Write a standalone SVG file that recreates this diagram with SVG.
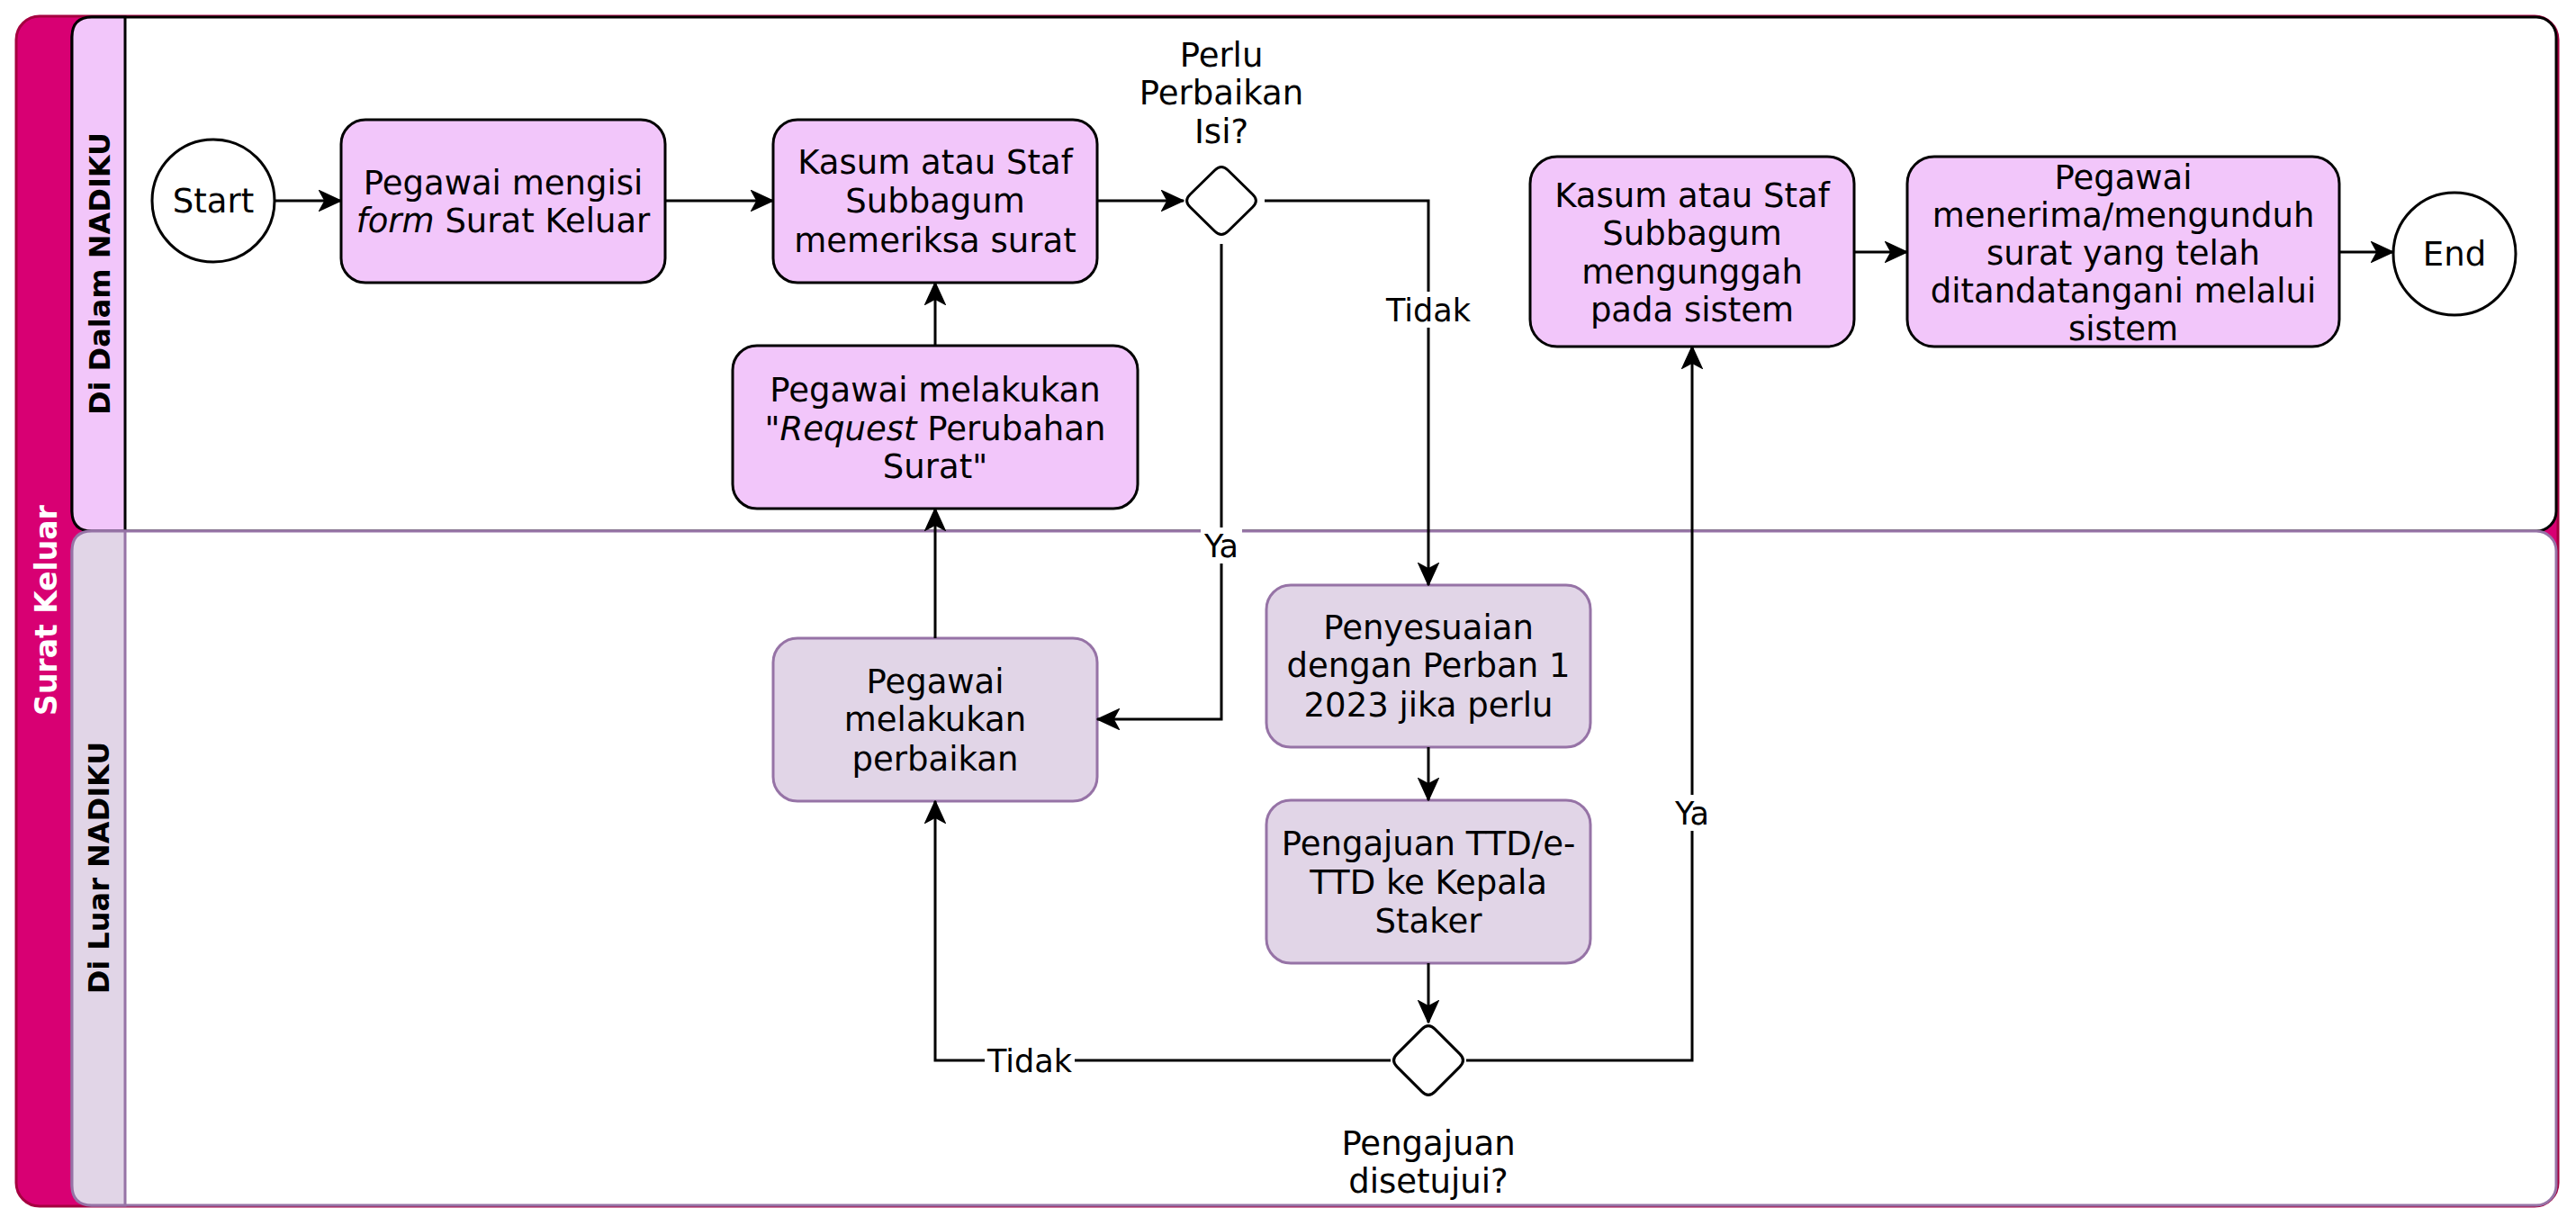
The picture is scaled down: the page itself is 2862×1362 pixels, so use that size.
<svg xmlns="http://www.w3.org/2000/svg" width="2862" height="1362" viewBox="0 0 2862 1362">
<defs>
<marker id="arr" markerUnits="userSpaceOnUse" markerWidth="26" markerHeight="24" viewBox="0 0 26 24" refX="25" refY="12" orient="auto">
<path d="M1,1 L25,12 L1,23 L7,12 Z" fill="#000" stroke="#000" stroke-width="1.5"/>
</marker>
<style>
.t{font-family:"DejaVu Sans","Liberation Sans",sans-serif;font-size:37px;fill:#000;text-anchor:middle}
.e{font-family:"DejaVu Sans","Liberation Sans",sans-serif;font-size:35px;fill:#000;text-anchor:middle}
.ll{font-family:"DejaVu Sans","Liberation Sans",sans-serif;font-weight:bold;font-size:32px;fill:#000;text-anchor:middle}
.n1{fill:#F2C6FA;stroke:#000;stroke-width:3}
.n2{fill:#E1D5E7;stroke:#9673A6;stroke-width:3}
.ev{fill:#fff;stroke:#000;stroke-width:3}
.c{fill:none;stroke:#000;stroke-width:3;marker-end:url(#arr)}
.lb{fill:#fff}
.i{font-style:italic}
</style>
</defs>
<rect x="0" y="0" width="2862" height="1362" fill="#fff"/>

<g id="pool">
<rect x="18" y="18" width="2824" height="1322" rx="26" fill="#D80073" stroke="#A50040" stroke-width="3"/>
<text class="ll" style="fill:#fff;font-size:33px" transform="translate(63,678) rotate(-90)">Surat Keluar</text>
</g>

<g id="lane-dalam">
<rect x="80" y="19" width="2760" height="571" rx="22" fill="#fff" stroke="#000" stroke-width="3"/>
<path d="M139,19 L102,19 Q80,19 80,41 L80,568 Q80,590 102,590 L139,590 Z" fill="#F2C6FA" stroke="#000" stroke-width="3"/>
<text class="ll" transform="translate(122,304) rotate(-90)">Di Dalam NADIKU</text>
</g>

<g id="lane-luar">
<rect x="80" y="590" width="2760" height="749" rx="22" fill="#fff" stroke="#9673A6" stroke-width="3"/>
<path d="M139,590 L102,590 Q80,590 80,612 L80,1317 Q80,1339 102,1339 L139,1339 Z" fill="#E1D5E7" stroke="#9673A6" stroke-width="3"/>
<text class="ll" transform="translate(121,964) rotate(-90)">Di Luar NADIKU</text>
</g>

<g id="start">
<circle cx="237" cy="223" r="68" class="ev"/>
<text class="t" x="237" y="236">Start</text>
</g>

<g id="isi-form">
<rect x="379" y="133" width="360" height="181" rx="27" class="n1"/>
<text class="t" x="559" y="216">Pegawai mengisi</text>
<text class="t" x="559" y="258"><tspan class="i">form</tspan> Surat Keluar</text>
</g>

<g id="periksa">
<rect x="859" y="133" width="360" height="181" rx="27" class="n1"/>
<text class="t" x="1039" y="193">Kasum atau Staf</text>
<text class="t" x="1039" y="236">Subbagum</text>
<text class="t" x="1039" y="280">memeriksa surat</text>
</g>

<g id="dec-perbaikan">
<path d="M1364.2,189 L1391.8,216 Q1399,223 1391.8,230 L1364.2,257 Q1357,264 1349.8,257 L1322.2,230 Q1315,223 1322.2,216 L1349.8,189 Q1357,182 1364.2,189 Z" class="ev"/>
<text class="t" x="1357" y="74">Perlu</text>
<text class="t" x="1357" y="116">Perbaikan</text>
<text class="t" x="1357" y="159">Isi?</text>
</g>

<g id="request">
<rect x="814" y="384" width="450" height="181" rx="27" class="n1"/>
<text class="t" x="1039" y="446">Pegawai melakukan</text>
<text class="t" x="1039" y="489">"<tspan class="i">Request</tspan> Perubahan</text>
<text class="t" x="1039" y="531">Surat"</text>
</g>

<g id="unggah">
<rect x="1700" y="174" width="360" height="211" rx="30" class="n1"/>
<text class="t" x="1880" y="230">Kasum atau Staf</text>
<text class="t" x="1880" y="272">Subbagum</text>
<text class="t" x="1880" y="315">mengunggah</text>
<text class="t" x="1880" y="357">pada sistem</text>
</g>

<g id="terima">
<rect x="2119" y="174" width="480" height="211" rx="30" class="n1"/>
<text class="t" x="2359" y="210">Pegawai</text>
<text class="t" x="2359" y="252">menerima/mengunduh</text>
<text class="t" x="2359" y="294">surat yang telah</text>
<text class="t" x="2359" y="336">ditandatangani melalui</text>
<text class="t" x="2359" y="378">sistem</text>
</g>

<g id="end">
<circle cx="2727" cy="282" r="68" class="ev"/>
<text class="t" x="2727" y="295">End</text>
</g>

<g id="perbaikan">
<rect x="859" y="709" width="360" height="181" rx="27" class="n2"/>
<text class="t" x="1039" y="770">Pegawai</text>
<text class="t" x="1039" y="812">melakukan</text>
<text class="t" x="1039" y="856">perbaikan</text>
</g>

<g id="penyesuaian">
<rect x="1407" y="650" width="360" height="180" rx="27" class="n2"/>
<text class="t" x="1587" y="710">Penyesuaian</text>
<text class="t" x="1587" y="752">dengan Perban 1</text>
<text class="t" x="1587" y="796">2023 jika perlu</text>
</g>

<g id="pengajuan">
<rect x="1407" y="889" width="360" height="181" rx="27" class="n2"/>
<text class="t" x="1587" y="950">Pengajuan TTD/e-</text>
<text class="t" x="1587" y="993">TTD ke Kepala</text>
<text class="t" x="1587" y="1036">Staker</text>
</g>

<g id="dec-disetujui">
<path d="M1594.1,1143.1 L1621.9,1170.9 Q1629,1178 1621.9,1185.1 L1594.1,1212.9 Q1587,1220 1579.9,1212.9 L1552.1,1185.1 Q1545,1178 1552.1,1170.9 L1579.9,1143.1 Q1587,1136 1594.1,1143.1 Z" class="ev"/>
<text class="t" x="1587" y="1283">Pengajuan</text>
<text class="t" x="1587" y="1325">disetujui?</text>
</g>

<g id="connectors">
<path class="c" d="M305,223 L379,223"/>
<path class="c" d="M739,223 L859,223"/>
<path class="c" d="M1219,223 L1315,223"/>
<path class="c" d="M1405,223 L1587,223 L1587,650"/>
<path class="c" d="M1357,271 L1357,799 L1219,799"/>
<path class="c" d="M1039,709 L1039,565"/>
<path class="c" d="M1039,384 L1039,314"/>
<path class="c" d="M1587,830 L1587,889"/>
<path class="c" d="M1587,1070 L1587,1136"/>
<path class="c" d="M1545,1178 L1039,1178 L1039,890"/>
<path class="c" d="M1629,1178 L1880,1178 L1880,385"/>
<path class="c" d="M2060,280 L2119,280"/>
<path class="c" d="M2599,280 L2659,280"/>
<rect class="lb" x="1537" y="324" width="100" height="40"/>
<text class="e" x="1587" y="357">Tidak</text>
<rect class="lb" x="1334" y="586" width="46" height="40"/>
<text class="e" x="1357" y="619">Ya</text>
<rect class="lb" x="1094" y="1158" width="100" height="40"/>
<text class="e" x="1144" y="1191">Tidak</text>
<rect class="lb" x="1857" y="883" width="46" height="40"/>
<text class="e" x="1880" y="916">Ya</text>
</g>
</svg>
